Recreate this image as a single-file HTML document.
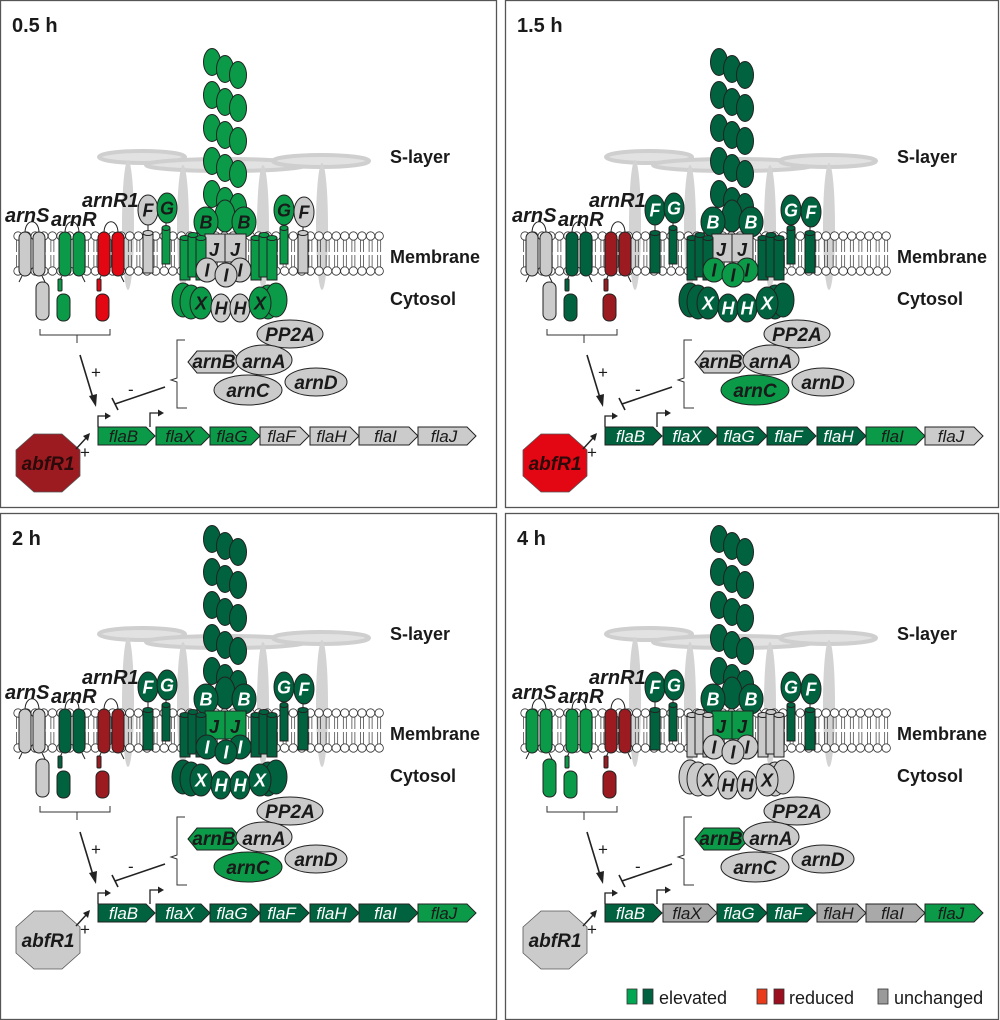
<!DOCTYPE html>
<html><head><meta charset="utf-8"><style>
html,body{margin:0;padding:0;background:#fff;}
svg{display:block;font-family:"Liberation Sans",Arial,sans-serif;}
</style></head><body>
<svg id="s" width="1000" height="1020" viewBox="0 0 1000 1020" xmlns="http://www.w3.org/2000/svg"></svg>
<script>
const LG="#0a9a48",DG="#00623f",RD="#e30613",DR="#9b1b20",GR="#cbcbcb",GR2="#a9a9a9";
const ST='stroke="#222" stroke-width="1"';
function tc(f){return (f==DG||f==DR)?"#fff":"#1a1a1a";}
function E(cx,cy,rx,ry,f,t,fs){let s=`<ellipse cx="${cx}" cy="${cy}" rx="${rx}" ry="${ry}" fill="${f}" ${ST}/>`;if(t)s+=`<text x="${cx}" y="${cy+(fs||16)*0.36}" text-anchor="middle" font-size="${fs||16}" font-style="italic" font-weight="bold" fill="${tc(f)}">${t}</text>`;return s;}
function R(x,y,w,h,f,rx){return `<rect x="${x}" y="${y}" width="${w}" height="${h}" rx="${rx||0}" fill="${f}" ${ST}/>`;}
function T(x,y,t,fs,extra,fill){return `<text x="${x}" y="${y}" font-size="${fs}" ${extra||''} fill="${fill||'#1a1a1a'}">${t}</text>`;}
function cyl(x,y,w,h,f){return R(x,y,w,h,f)+`<ellipse cx="${x+w/2}" cy="${y}" rx="${w/2}" ry="2.5" fill="${f}" ${ST}/>`;}
function panel(bx,by,dx,dy,title,c){
 let s=`<rect x="${bx+0.5}" y="${by+0.5}" width="${bx==0?496:493}" height="${by==0?507:506}" fill="#fff" stroke="#555" stroke-width="1.3"/>`;
 s+=T(bx+12,by+32,title,20,'font-weight="bold"');
 s+=`<g transform="translate(${dx},${dy})">`;
 // S-layer
 s+=`<ellipse cx="142" cy="157" rx="43" ry="6" fill="#e2e2e2" stroke="#cfcfcf" stroke-width="4"/>`;
 s+=`<ellipse cx="226" cy="165" rx="80" ry="6" fill="#e2e2e2" stroke="#cfcfcf" stroke-width="4"/>`;
 s+=`<ellipse cx="321" cy="161" rx="48" ry="6" fill="#e2e2e2" stroke="#cfcfcf" stroke-width="4"/>`;
 [[128,160,290],[183,165,290],[263,165,290],[322,163,290]].forEach(a=>{s+=`<ellipse cx="${a[0]}" cy="${(a[1]+a[2])/2}" rx="6" ry="${(a[2]-a[1])/2}" fill="#d3d3d3"/>`;});
 s+=T(390,163,"S-layer",18,'font-weight="bold"');
 s+=T(390,263,"Membrane",18,'font-weight="bold"');
 s+=T(390,305,"Cytosol",18,'font-weight="bold"');
 // membrane
 for(let x=18;x<=380;x+=8.6){
  s+=`<path d="M${x-1.5} 240 L${x-1.5} 252 M${x+1.5} 240 L${x+1.5} 252 M${x-1.5} 255 L${x-1.5} 267 M${x+1.5} 255 L${x+1.5} 267" stroke="#333" stroke-width="0.7"/>`;
  s+=`<circle cx="${x}" cy="236" r="4.2" fill="#fff" stroke="#333" stroke-width="0.8"/><circle cx="${x}" cy="271" r="4.2" fill="#fff" stroke="#333" stroke-width="0.8"/>`;
 }
 function rec(x1,x2,f){
  let r=`<path d="M${x1+6} 233 C${x1+6} 218 ${x2+6} 218 ${x2+6} 233" fill="none" stroke="#222"/>`;
  r+=R(x1,232,12,44,f,6)+R(x2,232,12,44,f,6);
  r+=`<path d="M${x1+3} 276 l-3 6 M${x2+9} 276 l3 6" stroke="#222" fill="none"/>`;
  return r;}
 s+=rec(19,33,c.arnS);s+=R(36,282,13,38,c.arnS,6);
 s+=rec(59,73,c.arnR);s+=R(58,279,4,12,c.arnR,1)+R(57,294,13,27,c.arnR,6);
 s+=rec(98,112,c.arnR1);s+=R(97,279,4,12,c.arnR1,1)+R(96,294,13,27,c.arnR1,6);
 s+=T(5,222,"arnS",20,'font-style="italic" font-weight="bold"');
 s+=T(51,226,"arnR",20,'font-style="italic" font-weight="bold"');
 s+=T(82,207,"arnR1",20,'font-style="italic" font-weight="bold"');
 s+=`<path d="M40 329 V335 H110 V329 M77 335 V343" fill="none" stroke="#333"/>`;
 s+=`<path d="M148 224 V233 M166 222 V229 M284 224 V229 M303 226 V233" stroke="#222"/>`;
 s+=cyl(143,233,10,40,c.F)+cyl(162,228,8,36,c.G)+cyl(280,228,8,36,c.G)+cyl(298,233,10,40,c.F);
 s+=E(148,210,10,15,c.F,"F",18)+E(167,208,10,15,c.G,"G",18)+E(284,210,10,15,c.G,"G",18)+E(304,212,10,15,c.F,"F",18);
 for(let r=0;r<5;r++){const y=62+r*33;s+=E(212,y,8.5,13.5,c.fil)+E(225,y+7,8.5,13.5,c.fil)+E(238,y+13,8.5,13.5,c.fil);}
 s+=E(225,216,10,16,c.B)+E(206,222,12,15,c.B,"B",18)+E(244,222,12,15,c.B,"B",18);
 s+=R(205,234,20,28,c.J)+R(225,234,21,28,c.J);
 s+=T(209,256,"J",18,'font-style="italic" font-weight="bold"',tc(c.J))+T(230,256,"J",18,'font-style="italic" font-weight="bold"',tc(c.J));
 [[180,238],[188,235],[196,238],[251,238],[259,235],[267,238]].forEach(a=>{s+=cyl(a[0],a[1],10,42,c.side);});
 s+=E(183,300,11,17,c.side)+E(191,302,11,17,c.side)+E(268,302,11,17,c.side)+E(276,300,11,17,c.side);
 s+=E(207,270,11,12,c.I,"I",18)+E(240,270,11,12,c.I,"I",18)+E(226,275,11,12,c.I,"I",18);
 s+=E(201,303,11,16,c.X,"X",18)+E(221,308,10,14,c.H,"H",18)+E(240,308,10,14,c.H,"H",18)+E(260,303,11,16,c.X,"X",18);
 s+=`<path d="M80 355 L93 398" stroke="#222" stroke-width="1.6"/><polygon points="96,407 89,396 97,394" fill="#222"/>`;
 s+=T(91,378,"+",17);
 s+=`<path d="M165 387 L115 404 M112 398 L118 410" stroke="#222" stroke-width="1.6"/>`;
 s+=T(128,395,"-",17);
 s+=`<path d="M185 340 H177 V378 L171 380 L177 382 V408 H187" fill="none" stroke="#333"/>`;
 s+=E(290,334,33,14,c.PP,"PP2A",19);
 s+=`<polygon points="188,362 197,351 232,351 242,362 232,373 197,373" fill="${c.arnB}" ${ST}/>`;
 s+=E(264,360,28,15,c.arnA)+T(214,368,"arnB",19,'text-anchor="middle" font-style="italic" font-weight="bold"')+T(264,368,"arnA",19,'text-anchor="middle" font-style="italic" font-weight="bold"',tc(c.arnA));
 s+=E(248,390,34,15,c.arnC,"arnC",19)+E(316,382,31,14,c.arnD,"arnD",19);
 const g=[["flaB",98,155],["flaX",156,210],["flaG",210,260],["flaF",260,309],["flaH",310,359],["flaI",359,418],["flaJ",418,476]];
 g.forEach((a,i)=>{const x=a[1],w=a[2]-a[1],f=c.genes[i];
  s+=`<polygon points="${x},427 ${x+w-9},427 ${x+w},436 ${x+w-9},445 ${x},445" fill="${f}" ${ST}/>`;
  s+=T(x+w/2-3,442,a[0],17,'text-anchor="middle" font-style="italic"',tc(f));});
 s+=`<path d="M98 427 V416 H106 M150 427 V413 H159" fill="none" stroke="#222" stroke-width="1.3"/><polygon points="111,416 105,412.5 105,419.5" fill="#222"/><polygon points="164,413 158,409.5 158,416.5" fill="#222"/>`;
 s+=`<polygon points="34,434 62,434 80,450 80,476 62,492 34,492 16,476 16,450" fill="${c.abf}" stroke="#555" stroke-width="0.8"/>`;
 s+=T(48,470,"abfR1",19,'text-anchor="middle" font-style="italic" font-weight="bold"',c.abf==GR?"#1a1a1a":"#2a0a0a");
 s+=`<path d="M76 449 L87 437" stroke="#222" stroke-width="1.4"/><polygon points="90,433 83,436 88,441" fill="#222"/>`;
 s+=T(80,458,"+",17);
 s+=`</g>`;return s;}
let out="";
out+=panel(0,0,0,0,"0.5 h",{fil:LG,B:LG,J:GR,side:LG,I:GR,X:LG,H:GR,arnS:GR,arnR:LG,arnR1:RD,F:GR,G:LG,PP:GR,arnA:GR,arnB:GR,arnC:GR,arnD:GR,abf:DR,genes:[LG,LG,LG,GR,GR,GR,GR]});
out+=panel(505,0,507,0,"1.5 h",{fil:DG,B:DG,J:GR,side:DG,I:LG,X:DG,H:DG,arnS:GR,arnR:DG,arnR1:DR,F:DG,G:DG,PP:GR,arnA:GR,arnB:GR,arnC:LG,arnD:GR,abf:RD,genes:[DG,DG,DG,DG,DG,LG,GR]});
out+=panel(0,513,0,477,"2 h",{fil:DG,B:DG,J:LG,side:DG,I:DG,X:DG,H:DG,arnS:GR,arnR:DG,arnR1:DR,F:DG,G:DG,PP:GR,arnA:GR,arnB:LG,arnC:LG,arnD:GR,abf:GR,genes:[DG,DG,DG,DG,DG,DG,LG]});
out+=panel(505,513,507,477,"4 h",{fil:DG,B:DG,J:LG,side:GR,I:GR,X:GR,H:GR,arnS:LG,arnR:LG,arnR1:DR,F:DG,G:DG,PP:GR,arnA:GR,arnB:LG,arnC:GR,arnD:GR,abf:GR,genes:[DG,GR2,DG,DG,GR2,GR2,LG]});
out+=`<rect x="627" y="989" width="10" height="15" fill="#00a651" stroke="#333" stroke-width="0.8"/><rect x="643" y="989" width="10" height="15" fill="#006241" stroke="#333" stroke-width="0.8"/>`;
out+=T(659,1004,"elevated",18);
out+=`<rect x="757" y="989" width="10" height="15" fill="#ea3a1c" stroke="#333" stroke-width="0.8"/><rect x="774" y="989" width="10" height="15" fill="#9b0f1e" stroke="#333" stroke-width="0.8"/>`;
out+=T(789,1004,"reduced",18);
out+=`<rect x="878" y="989" width="10" height="15" fill="#9a9a9a" stroke="#333" stroke-width="0.8"/>`;
out+=T(894,1004,"unchanged",18);
document.getElementById("s").innerHTML=out;
</script>
</body></html>
